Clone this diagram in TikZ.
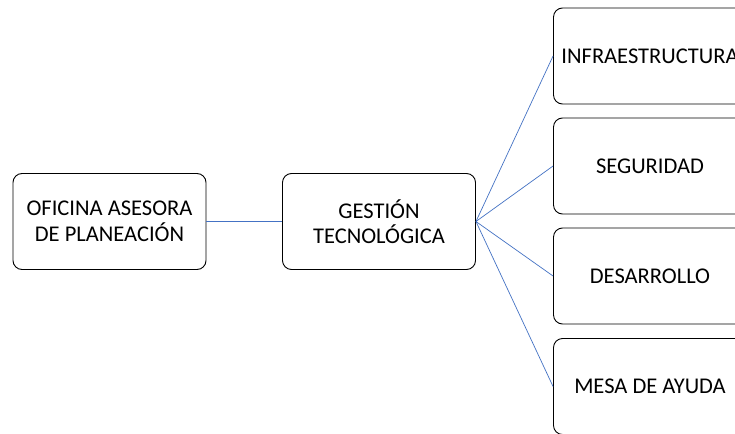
\documentclass[tikz,border=0pt]{standalone}
\usepackage{fontspec}
\setmainfont{Carlito}
\definecolor{linkblue}{RGB}{68,114,196}
\begin{document}
\begin{tikzpicture}[x=1pt,y=-1pt,
  unit/.style={draw=black, line width=0.9pt, rounded corners=9pt, fill=white,
    minimum width=193pt, minimum height=96pt, align=center, inner sep=0pt,
    font=\fontsize{22.5pt}{25.5pt}\selectfont},
  link/.style={draw=linkblue, line width=0.7pt}]
\useasboundingbox (0,0) rectangle (735,433);
\clip (0,0) rectangle (735,433);
\fill[white] (0,0) rectangle (735,433);
\node[unit] (ofi) at (109.5,221.5) {OFICINA ASESORA\\DE PLANEACIÓN};
\node[unit] (ges) at (379,221.5) {GESTIÓN\\TECNOLÓGICA};
\node[unit] (inf) at (650,56) {INFRAESTRUCTURA};
\node[unit] (seg) at (650,166) {SEGURIDAD};
\node[unit] (des) at (650,276) {DESARROLLO};
\node[unit] (mes) at (650,386.5) {MESA DE AYUDA};
\draw[link] (ofi.east) -- (ges.west);
\foreach \t in {inf,seg,des,mes}
  \draw[link] (ges.east) -- (\t.west);
\end{tikzpicture}
\end{document}
